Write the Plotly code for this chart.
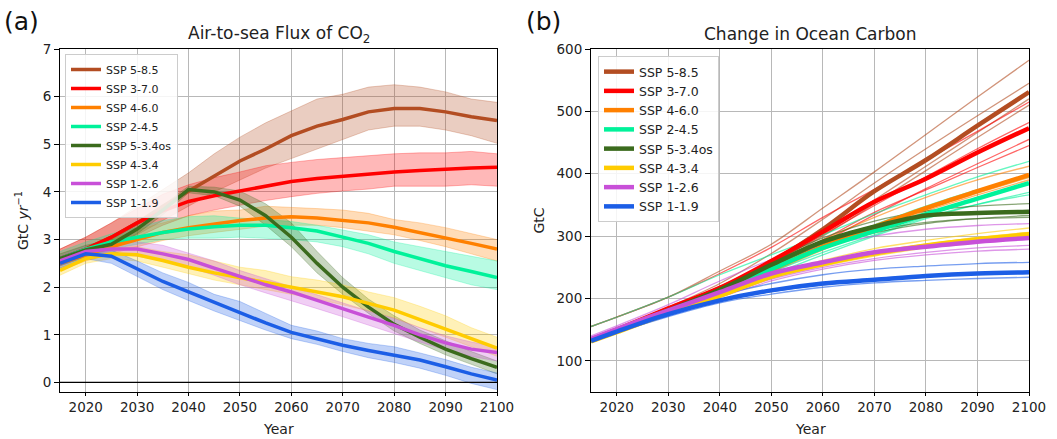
import plotly.graph_objects as go

# ---------------- data ----------------
SCEN = ["SSP 5-8.5", "SSP 3-7.0", "SSP 4-6.0", "SSP 2-4.5",
        "SSP 5-3.4os", "SSP 4-3.4", "SSP 1-2.6", "SSP 1-1.9"]
COLORS = ["#b34d22", "#ff0000", "#ff8000", "#00f29a",
          "#3b6b1d", "#ffcc00", "#c850d8", "#1c5ee6"]

# Panel (a): air-to-sea flux (GtC/yr), 5-year samples
YEARS_A = [2015, 2020, 2025, 2030, 2035, 2040, 2045, 2050, 2055, 2060,
           2065, 2070, 2075, 2080, 2085, 2090, 2095, 2100]

flux_mean = {
    "SSP 5-8.5": [2.6, 2.8, 3.05, 3.35, 3.7, 4.02, 4.35, 4.65, 4.9, 5.18, 5.38, 5.52, 5.68, 5.75, 5.75, 5.68, 5.58, 5.5],
    "SSP 3-7.0": [2.6, 2.8, 3.05, 3.35, 3.6, 3.8, 3.92, 4.02, 4.12, 4.22, 4.28, 4.33, 4.38, 4.42, 4.45, 4.48, 4.5, 4.52],
    "SSP 4-6.0": [2.5, 2.68, 2.85, 3.0, 3.15, 3.25, 3.33, 3.4, 3.45, 3.48, 3.45, 3.4, 3.35, 3.26, 3.15, 3.04, 2.92, 2.8],
    "SSP 2-4.5": [2.6, 2.8, 2.95, 3.05, 3.15, 3.22, 3.27, 3.3, 3.3, 3.25, 3.18, 3.05, 2.92, 2.75, 2.6, 2.45, 2.33, 2.2],
    "SSP 5-3.4os": [2.6, 2.78, 2.9, 3.22, 3.62, 4.05, 4.0, 3.83, 3.5, 3.05, 2.5, 2.0, 1.58, 1.22, 0.95, 0.7, 0.5, 0.32],
    "SSP 4-3.4": [2.35, 2.6, 2.7, 2.68, 2.56, 2.42, 2.3, 2.2, 2.1, 2.0, 1.9, 1.8, 1.66, 1.52, 1.32, 1.12, 0.92, 0.72],
    "SSP 1-2.6": [2.55, 2.75, 2.8, 2.8, 2.7, 2.58, 2.4, 2.22, 2.05, 1.9, 1.72, 1.55, 1.37, 1.2, 1.0, 0.83, 0.7, 0.63],
    "SSP 1-1.9": [2.5, 2.7, 2.65, 2.38, 2.12, 1.9, 1.68, 1.47, 1.25, 1.05, 0.92, 0.78, 0.67, 0.57, 0.47, 0.33, 0.18, 0.05],
}
flux_hi = {
    "SSP 5-8.5": [2.8, 3.05, 3.35, 3.7, 4.05, 4.4, 4.8, 5.15, 5.45, 5.7, 5.95, 6.05, 6.2, 6.25, 6.2, 6.1, 5.95, 5.88],
    "SSP 3-7.0": [2.8, 3.05, 3.35, 3.65, 3.95, 4.15, 4.3, 4.42, 4.55, 4.62, 4.68, 4.72, 4.76, 4.8, 4.82, 4.82, 4.85, 4.8],
    "SSP 4-6.0": [2.65, 2.82, 3.0, 3.2, 3.35, 3.5, 3.6, 3.62, 3.7, 3.68, 3.65, 3.62, 3.55, 3.42, 3.35, 3.25, 3.12, 3.0],
    "SSP 2-4.5": [2.75, 2.95, 3.12, 3.25, 3.4, 3.48, 3.5, 3.45, 3.42, 3.38, 3.3, 3.2, 3.1, 2.95, 2.85, 2.75, 2.65, 2.55],
    "SSP 5-3.4os": [2.7, 2.88, 3.0, 3.32, 3.72, 4.12, 4.1, 4.02, 3.75, 3.35, 2.75, 2.2, 1.75, 1.4, 1.1, 0.88, 0.65, 0.45],
    "SSP 4-3.4": [2.5, 2.72, 2.82, 2.85, 2.75, 2.68, 2.55, 2.42, 2.35, 2.22, 2.15, 2.05, 1.9, 1.78, 1.6, 1.4, 1.15, 0.95],
    "SSP 1-2.6": [2.65, 2.85, 2.9, 2.95, 2.88, 2.72, 2.55, 2.35, 2.18, 2.02, 1.85, 1.68, 1.5, 1.35, 1.15, 0.98, 0.85, 0.75],
    "SSP 1-1.9": [2.6, 2.8, 2.78, 2.55, 2.3, 2.1, 1.85, 1.7, 1.45, 1.2, 1.08, 0.92, 0.82, 0.75, 0.62, 0.48, 0.32, 0.2],
}
flux_lo = {
    "SSP 5-8.5": [2.45, 2.65, 2.85, 3.1, 3.4, 3.7, 4.0, 4.25, 4.5, 4.7, 4.9, 5.1, 5.3, 5.38, 5.38, 5.3, 5.18, 5.02],
    "SSP 3-7.0": [2.45, 2.65, 2.85, 3.05, 3.3, 3.5, 3.62, 3.72, 3.82, 3.9, 3.97, 4.02, 4.06, 4.12, 4.12, 4.12, 4.15, 4.12],
    "SSP 4-6.0": [2.35, 2.55, 2.7, 2.85, 2.98, 3.08, 3.15, 3.22, 3.28, 3.3, 3.3, 3.25, 3.18, 3.1, 2.98, 2.85, 2.7, 2.55],
    "SSP 2-4.5": [2.45, 2.62, 2.8, 2.9, 3.0, 3.03, 3.03, 3.05, 3.02, 3.0, 2.95, 2.85, 2.7, 2.5, 2.35, 2.2, 2.05, 1.95],
    "SSP 5-3.4os": [2.5, 2.68, 2.8, 3.12, 3.52, 3.98, 3.92, 3.7, 3.3, 2.85, 2.3, 1.85, 1.45, 1.08, 0.82, 0.58, 0.38, 0.18],
    "SSP 4-3.4": [2.25, 2.5, 2.6, 2.55, 2.42, 2.28, 2.15, 2.05, 1.95, 1.85, 1.75, 1.63, 1.5, 1.35, 1.15, 0.95, 0.75, 0.55],
    "SSP 1-2.6": [2.45, 2.65, 2.7, 2.65, 2.55, 2.42, 2.25, 2.05, 1.88, 1.72, 1.55, 1.38, 1.2, 1.02, 0.85, 0.68, 0.55, 0.45],
    "SSP 1-1.9": [2.4, 2.6, 2.5, 2.22, 1.95, 1.72, 1.5, 1.3, 1.1, 0.92, 0.8, 0.65, 0.52, 0.42, 0.3, 0.15, -0.02, -0.15],
}

# Panel (b): change in ocean carbon (GtC)
YEARS_B = [2015, 2020, 2030, 2040, 2050, 2060, 2070, 2080, 2090, 2100]
carbon_mean = {
    "SSP 5-8.5": [133, 149, 182, 216, 258, 311, 372, 422, 477, 531],
    "SSP 3-7.0": [134, 150, 184, 217, 260, 307, 355, 392, 434, 473],
    "SSP 4-6.0": [132, 148, 179, 210, 246, 283, 315, 345, 372, 398],
    "SSP 2-4.5": [133, 149, 180, 211, 247, 281, 308, 335, 360, 385],
    "SSP 5-3.4os": [133, 149, 181, 214, 254, 291, 315, 333, 337, 339],
    "SSP 4-3.4": [131, 146, 176, 204, 235, 255, 272, 285, 295, 303],
    "SSP 1-2.6": [135, 151, 181, 210, 240, 258, 274, 283, 291, 297],
    "SSP 1-1.9": [132, 147, 175, 197, 213, 224, 230, 236, 240, 242],
}
carbon_members = {
    "SSP 5-8.5": [
        [155, 170, 202, 244, 287, 345, 403, 463, 523, 582],
        [135, 151, 186, 224, 272, 327, 385, 440, 493, 545],
        [132, 147, 179, 212, 252, 300, 352, 405, 458, 510],
        [131, 146, 178, 211, 254, 304, 358, 412, 466, 520],
    ],
    "SSP 3-7.0": [
        [155, 170, 202, 240, 282, 330, 375, 422, 468, 515],
        [133, 149, 183, 215, 256, 302, 349, 395, 440, 482],
        [131, 146, 178, 209, 248, 290, 334, 376, 416, 455],
        [132, 147, 180, 211, 250, 294, 338, 374, 410, 445],
    ],
    "SSP 4-6.0": [
        [134, 150, 182, 215, 254, 294, 330, 362, 390, 412],
        [131, 146, 177, 207, 242, 278, 311, 340, 366, 390],
        [132, 147, 178, 209, 244, 281, 314, 343, 369, 394],
    ],
    "SSP 2-4.5": [
        [155, 170, 202, 238, 270, 302, 336, 366, 395, 420],
        [132, 148, 180, 213, 251, 287, 318, 348, 374, 395],
        [131, 146, 177, 206, 238, 270, 300, 328, 351, 370],
        [132, 147, 178, 208, 242, 274, 302, 330, 351, 366],
    ],
    "SSP 5-3.4os": [
        [134, 150, 183, 218, 260, 297, 324, 340, 348, 352],
        [132, 147, 179, 211, 250, 287, 309, 322, 328, 330],
        [131, 146, 178, 209, 246, 282, 305, 320, 328, 333],
    ],
    "SSP 4-3.4": [
        [132, 147, 178, 207, 239, 261, 280, 293, 304, 313],
        [130, 145, 175, 202, 232, 252, 268, 281, 292, 300],
        [131, 146, 176, 205, 236, 257, 274, 287, 298, 306],
    ],
    "SSP 1-2.6": [
        [140, 156, 190, 228, 262, 284, 300, 311, 317, 320],
        [133, 148, 177, 204, 231, 250, 264, 274, 281, 285],
        [132, 147, 175, 202, 228, 247, 261, 270, 276, 279],
    ],
    "SSP 1-1.9": [
        [134, 150, 180, 205, 224, 238, 247, 252, 256, 258],
        [131, 146, 173, 196, 211, 222, 229, 235, 239, 241],
        [130, 145, 171, 193, 207, 218, 225, 229, 232, 234],
    ],
}

TICKS_X = [2020, 2030, 2040, 2050, 2060, 2070, 2080, 2090, 2100]
TICKS_YA = [0, 1, 2, 3, 4, 5, 6, 7]
TICKS_YB = [100, 200, 300, 400, 500, 600]


def rgba(hexc, a):
    h = hexc.lstrip("#")
    r, g, b = int(h[0:2], 16), int(h[2:4], 16), int(h[4:6], 16)
    return f"rgba({r},{g},{b},{a})"


FONT = "DejaVu Sans"
fig = go.Figure()

# ---- panel (a) bands ----
for name, col in zip(SCEN, COLORS):
    fig.add_trace(go.Scatter(x=YEARS_A, y=flux_hi[name], mode="lines",
                             line=dict(color=rgba(col, 0.35), width=0.8),
                             showlegend=False, hoverinfo="skip",
                             xaxis="x", yaxis="y"))
    fig.add_trace(go.Scatter(x=YEARS_A, y=flux_lo[name], mode="lines",
                             line=dict(color=rgba(col, 0.35), width=0.8),
                             fill="tonexty", fillcolor=rgba(col, 0.28),
                             showlegend=False, hoverinfo="skip",
                             xaxis="x", yaxis="y"))
# ---- panel (a) means ----
for name, col in zip(SCEN, COLORS):
    fig.add_trace(go.Scatter(x=YEARS_A, y=flux_mean[name], mode="lines",
                             name=name, line=dict(color=col, width=3.5),
                             legend="legend", xaxis="x", yaxis="y"))

# ---- panel (b) members ----
for name, col in zip(SCEN, COLORS):
    for mem in carbon_members[name]:
        fig.add_trace(go.Scatter(x=YEARS_B, y=mem, mode="lines",
                                 line=dict(color=rgba(col, 0.6), width=1.3, shape="spline"),
                                 showlegend=False, hoverinfo="skip",
                                 xaxis="x2", yaxis="y2"))
# ---- panel (b) means ----
for name, col in zip(SCEN, COLORS):
    fig.add_trace(go.Scatter(x=YEARS_B, y=carbon_mean[name], mode="lines",
                             name=name, line=dict(color=col, width=4.5, shape="spline"),
                             legend="legend2", xaxis="x2", yaxis="y2"))

W, H = 1057, 439
ax_common = dict(showgrid=True, gridcolor="#b8b8b8", gridwidth=1,
                 showline=True, linecolor="black", linewidth=1, mirror=True,
                 ticks="outside", tickcolor="black",
                 tickfont=dict(family=FONT, size=13.5, color="#222"),
                 zeroline=False, automargin=False)

fig.update_layout(
    width=W, height=H,
    margin=dict(l=0, r=0, t=0, b=0, autoexpand=False),
    paper_bgcolor="white", plot_bgcolor="white",
    font=dict(family=FONT, color="#222"),
    xaxis=dict(domain=[60 / W, 497 / W], range=[2015, 2100], tickvals=TICKS_X,
               ticklen=3, anchor="y", **ax_common),
    yaxis=dict(domain=[1 - 392 / H, 1 - 49 / H], range=[-0.2, 7], tickvals=TICKS_YA,
               ticklen=5,
               title=dict(text="GtC <i>yr</i><sup>−1</sup>", font=dict(size=14), standoff=10),
               anchor="x", **ax_common),
    xaxis2=dict(domain=[591 / W, 1029 / W], range=[2015, 2100], tickvals=TICKS_X,
                ticklen=3, anchor="y2", **ax_common),
    yaxis2=dict(domain=[1 - 392 / H, 1 - 49 / H], range=[50, 600], tickvals=TICKS_YB,
                ticklen=5,
                title=dict(text="GtC", font=dict(size=14), standoff=8),
                anchor="x2", **ax_common),
    legend=dict(x=65 / W, y=1 - 54 / H, xanchor="left", yanchor="top",
                bgcolor="rgba(255,255,255,0.85)", bordercolor="#cccccc", borderwidth=1,
                font=dict(family=FONT, size=11, color="#222"), tracegroupgap=0,
                traceorder="normal", itemwidth=30),
    legend2=dict(x=598 / W, y=1 - 56 / H, xanchor="left", yanchor="top",
                 bgcolor="rgba(255,255,255,0.85)", bordercolor="#cccccc", borderwidth=1,
                 font=dict(family=FONT, size=12.5, color="#222"), tracegroupgap=0,
                 traceorder="normal", itemwidth=30),
    shapes=[dict(type="line", xref="x", yref="y", x0=2015, x1=2100, y0=0, y1=0,
                 line=dict(color="black", width=1.3))],
    annotations=[
        dict(text="(a)", x=2 / W, y=1 - 22 / H, xref="paper", yref="paper",
             xanchor="left", yanchor="middle", showarrow=False,
             font=dict(family=FONT, size=25, color="#111")),
        dict(text="(b)", x=524 / W, y=1 - 22 / H, xref="paper", yref="paper",
             xanchor="left", yanchor="middle", showarrow=False,
             font=dict(family=FONT, size=25, color="#111")),
        dict(text="Air-to-sea Flux of CO<sub>2</sub>", x=278.5 / W, y=1 - 34 / H,
             xref="paper", yref="paper", xanchor="center", yanchor="middle",
             showarrow=False, font=dict(family=FONT, size=17, color="#222")),
        dict(text="Change in Ocean Carbon", x=810 / W, y=1 - 34 / H,
             xref="paper", yref="paper", xanchor="center", yanchor="middle",
             showarrow=False, font=dict(family=FONT, size=17, color="#222")),
        dict(text="Year", x=278.5 / W, y=1 - 429 / H,
             xref="paper", yref="paper", xanchor="center", yanchor="middle",
             showarrow=False, font=dict(family=FONT, size=14, color="#222")),
        dict(text="Year", x=810 / W, y=1 - 429 / H,
             xref="paper", yref="paper", xanchor="center", yanchor="middle",
             showarrow=False, font=dict(family=FONT, size=14, color="#222")),
    ],
)

fig.write_html("out.html", config={"displayModeBar": False},
               post_script="document.body.style.margin='0';document.body.style.overflow='hidden';")
